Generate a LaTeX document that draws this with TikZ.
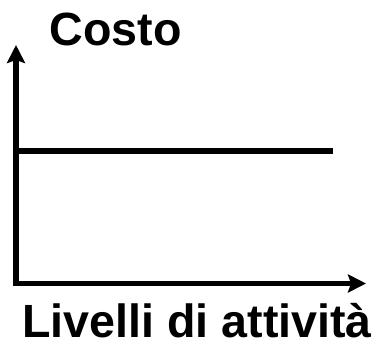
\documentclass[tikz,border=0pt]{standalone}
\usepackage{fontspec}
\setmainfont{Liberation Sans}
\usetikzlibrary{arrows.meta}
\begin{document}
\begin{tikzpicture}[x=1bp,y=-1bp,
  axis/.style={line width=5.3bp,-{Stealth[length=18bp,width=18bp,inset=3bp]}},
  curve/.style={line width=5.3bp},
  lbl/.style={inner sep=0pt,anchor=base west,font=\fontsize{46.6bp}{50bp}\selectfont\bfseries}]
\useasboundingbox (0,0) rectangle (379,344);
\coordinate (o) at (16,283.5);
\coordinate (ytip) at (16,45);
\coordinate (xtip) at (366,283.5);
\coordinate (l0) at (16,151);
\coordinate (l1) at (333,151);
\draw[axis] ([xshift=-2.65bp]o) -- (xtip);
\draw[axis] ([yshift=2.65bp]o) -- (ytip);
\draw[curve] (l0) -- (l1);
\node[lbl] (cost) at (49.5,45) {Costo};
\node[lbl] (liv) at (22,337) {\raisebox{0pt}[\height][0pt]{Livelli di attività}};
\end{tikzpicture}
\end{document}
